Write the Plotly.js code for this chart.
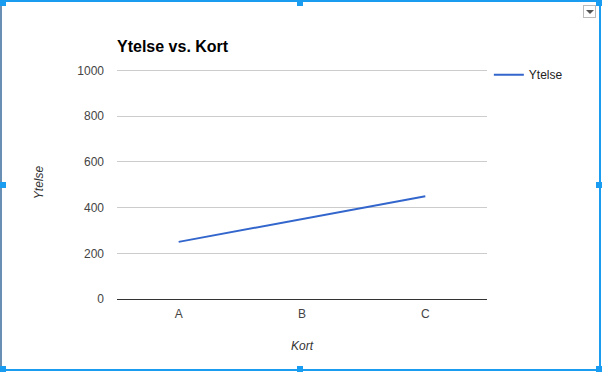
<!DOCTYPE html>
<html>
<head>
<meta charset="utf-8">
<script src="https://cdn.plot.ly/plotly-3.0.1.min.js"></script>
<style>
  html, body { margin: 0; padding: 0; background: #fff; }
  #wrap { position: relative; width: 602px; height: 372px; overflow: hidden; }
  #chart { position: absolute; left: 0; top: 0; width: 602px; height: 372px; }
  .bd { position: absolute; background: #1a9cf0; }
  .hd { position: absolute; width: 6px; height: 6px; background: #1a9cf0; }
  #menu { position: absolute; left: 583px; top: 5px; width: 11px; height: 11px; border: 1px solid #bbb; background: #fff; }
  #menu:after { content: ""; position: absolute; left: 2px; top: 4px; border-left: 4px solid transparent; border-right: 4px solid transparent; border-top: 4px solid #555; }
</style>
</head>
<body>
<div id="wrap">
  <div id="chart"></div>
  <div class="bd" style="left:0;top:0;width:602px;height:2px;"></div>
  <div class="bd" style="left:0;top:369px;width:602px;height:2px;"></div>
  <div class="bd" style="left:0;top:0;width:2px;height:372px;background:#6a8fb5;"></div>
  <div class="bd" style="left:599px;top:0;width:2px;height:372px;"></div>
  <div class="hd" style="left:0;top:0;"></div>
  <div class="hd" style="left:297px;top:0;"></div>
  <div class="hd" style="left:596px;top:0;"></div>
  <div class="hd" style="left:0;top:182px;"></div>
  <div class="hd" style="left:596px;top:182px;"></div>
  <div class="hd" style="left:0;top:366px;"></div>
  <div class="hd" style="left:297px;top:366px;"></div>
  <div class="hd" style="left:596px;top:366px;"></div>
  <div id="menu"></div>
</div>
<script>
const categories = ["A", "B", "C"];
const ytelse = [250, 350, 450];
const seriesName = "Ytelse";
const yTicks = [0, 200, 400, 600, 800, 1000];

const trace = {
  x: categories,
  y: ytelse,
  type: "scatter",
  mode: "lines",
  name: seriesName,
  line: { color: "#3366cc", width: 2 }
};

const layout = {
  width: 602,
  height: 372,
  margin: { l: 117, r: 115, t: 66, b: 73 },
  paper_bgcolor: "rgba(0,0,0,0)",
  plot_bgcolor: "rgba(0,0,0,0)",
  font: { family: "Liberation Sans, Arial, sans-serif", size: 12, color: "#444" },
  title: {
    text: "<b>Ytelse vs. Kort</b>",
    font: { family: "Liberation Sans, Arial, sans-serif", size: 16, color: "#000" },
    x: 117 / 602, xanchor: "left", xref: "container",
    y: 1 - 46 / 372, yref: "container", yanchor: "middle"
  },
  xaxis: {
    type: "category",
    range: [-0.5, 2.5],
    showgrid: false,
    showline: false,
    zeroline: false,
    ticks: "",
    ticklabelstandoff: 6,
    tickfont: { size: 12, color: "#444" },
    title: { text: "<i>Kort</i>", font: { size: 12, color: "#333" }, standoff: 21 }
  },
  yaxis: {
    range: [0, 1020],
    tickvals: yTicks,
    ticktext: yTicks.map(String),
    showgrid: true,
    gridcolor: "#cccccc",
    gridwidth: 1,
    zeroline: true,
    zerolinecolor: "#333333",
    zerolinewidth: 1,
    showline: false,
    ticks: "",
    ticklabelstandoff: 12,
    tickfont: { size: 12, color: "#444" },
    title: { text: "<i>Ytelse</i>", font: { size: 12, color: "#333" }, standoff: 31 }
  },
  showlegend: true,
  legend: {
    x: 1.005, xanchor: "left",
    y: 1.025, yanchor: "top",
    font: { size: 12, color: "#222" },
    bgcolor: "rgba(0,0,0,0)",
    itemwidth: 30
  }
};

Plotly.newPlot("chart", [trace], layout, { displayModeBar: false, staticPlot: true });
</script>
</body>
</html>
